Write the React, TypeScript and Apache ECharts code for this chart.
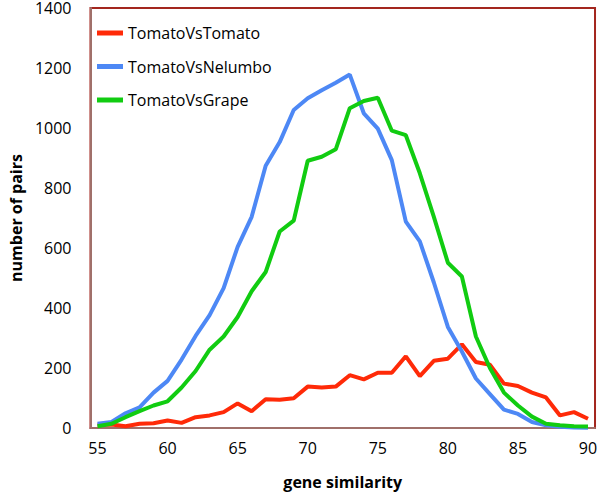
import React, { useEffect, useRef } from "react";
import * as echarts from "echarts";

const categories = [
  "55","56","57","58","59","60","61","62","63","64","65","66","67","68","69","70","71","72",
  "73","74","75","76","77","78","79","80","81","82","83","84","85","86","87","88","89","90",
];

const tomatoVsTomato = [
  9, 12, 6, 14, 16, 25, 17, 36, 42, 53, 82, 56, 96, 94, 99, 138, 135, 138,
  176, 162, 184, 184, 239, 173, 224, 231, 279, 220, 211, 148, 140, 118, 102, 42, 53, 31,
];

const tomatoVsNelumbo = [
  14, 20, 49, 69, 118, 157, 228, 307, 376, 466, 604, 704, 874, 953, 1060, 1099, 1126, 1151,
  1178, 1049, 998, 893, 688, 622, 485, 337, 255, 165, 113, 61, 47, 20, 9, 4, 2, 1,
];

const tomatoVsGrape = [
  6, 14, 36, 56, 75, 89, 135, 190, 261, 305, 370, 456, 520, 655, 691, 891, 904, 929,
  1066, 1090, 1101, 991, 976, 849, 704, 551, 505, 305, 200, 118, 75, 38, 14, 9, 6, 5,
];

const seriesNames = ["TomatoVsTomato", "TomatoVsNelumbo", "TomatoVsGrape"];
const seriesColors = ["#ff2a08", "#4d88f5", "#11cc11"];

export default function App() {
  const ref = useRef<HTMLDivElement>(null);

  useEffect(() => {
    document.body.style.margin = "0";
    if (!ref.current) return;
    const chart = echarts.init(ref.current, undefined, { renderer: "svg" });
    const font = "'Open Sans', sans-serif";
    const values = [tomatoVsTomato, tomatoVsNelumbo, tomatoVsGrape];
    chart.setOption({
      animation: false,
      backgroundColor: "#ffffff",
      textStyle: { fontFamily: font },
      grid: {
        left: 81,
        right: 3,
        top: 7,
        bottom: 64,
        containLabel: false,
        show: true,
        borderColor: "#a3261e",
        borderWidth: 2,
        backgroundColor: "transparent",
      },
      legend: {
        orient: "vertical",
        left: 97,
        top: 23,
        padding: 0,
        itemGap: 13.5,
        itemWidth: 26,
        itemHeight: 5,
        icon: "rect",
        data: seriesNames,
        textStyle: {
          fontFamily: font,
          fontSize: 16,
          color: "#000000",
          lineHeight: 20,
        },
      },
      xAxis: {
        type: "category",
        data: categories,
        boundaryGap: true,
        name: "gene similarity",
        nameLocation: "middle",
        nameGap: 46,
        nameTextStyle: {
          fontFamily: font,
          fontSize: 16,
          fontWeight: "bold",
          color: "#000000",
        },
        axisLine: { show: true, lineStyle: { color: "#a0706a", width: 2 } },
        axisTick: { show: false },
        axisLabel: {
          interval: 4,
          margin: 12,
          fontFamily: font,
          fontSize: 16,
          color: "#000000",
        },
        splitLine: { show: false },
      },
      yAxis: {
        type: "value",
        min: 0,
        max: 1400,
        interval: 200,
        name: "number of pairs",
        nameLocation: "middle",
        nameRotate: 90,
        nameGap: 58,
        nameTextStyle: {
          fontFamily: font,
          fontSize: 16,
          fontWeight: "bold",
          color: "#000000",
        },
        axisLine: { show: true, lineStyle: { color: "#a0706a", width: 2 } },
        axisTick: { show: false },
        axisLabel: {
          margin: 19,
          lineHeight: 14,
          fontFamily: font,
          fontSize: 16,
          color: "#000000",
          formatter: (v: number) => String(v),
        },
        splitLine: { show: false },
      },
      series: seriesNames.map((name, i) => ({
        name,
        type: "line",
        data: values[i],
        symbol: "none",
        smooth: false,
        lineStyle: { width: 4, color: seriesColors[i] },
        itemStyle: { color: seriesColors[i] },
        z: 2 + i,
      })),
    });
    return () => chart.dispose();
  }, []);

  return <div ref={ref} style={{ width: 600, height: 495 }} />;
}
